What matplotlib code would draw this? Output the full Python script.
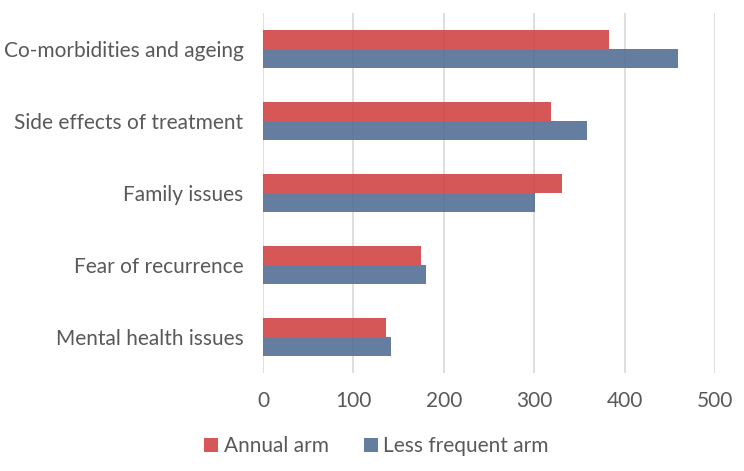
import matplotlib
matplotlib.use("Agg")
import matplotlib.pyplot as plt
import numpy as np

# ── data ─────────────────────────────────────────────────────────────────────
categories = ["Co-morbidities and ageing", "Side effects of treatment",
              "Family issues", "Fear of recurrence", "Mental health issues"]
annual_arm = [382, 318, 331, 175, 136]
less_frequent_arm = [459, 358, 301, 180, 142]
x_ticks = [0, 100, 200, 300, 400, 500]

series_labels = ["Annual arm", "Less frequent arm"]
RED = "#CF3A3A"
BLUE = "#4A6890"
TEXT = "#595959"
FS = 15

plt.rcParams["font.family"] = ["Lato", "DejaVu Sans"]

fig = plt.figure(figsize=(7.44, 4.71), dpi=100)
ax = fig.add_axes([0.3535, 0.208, 0.6079, 0.7644])

y = np.arange(len(categories))
h = 0.265
ax.barh(y - h / 2, annual_arm, height=h, color=RED, alpha=0.85,
        label=series_labels[0], zorder=3)
ax.barh(y + h / 2, less_frequent_arm, height=h, color=BLUE, alpha=0.85,
        label=series_labels[1], zorder=3)

ax.set_ylim(len(categories) - 0.5, -0.5)
ax.set_xlim(0, 500)
ax.set_xticks(x_ticks)
ax.set_yticks(y)
ax.set_yticklabels(categories, fontsize=FS, color=TEXT)
ax.tick_params(axis="x", labelsize=FS, labelcolor=TEXT, length=0, pad=13)
ax.tick_params(axis="y", length=0, pad=14)

ax.grid(axis="x", color="#D9D9D9", linewidth=1.2, zorder=0)
ax.set_axisbelow(True)
for s in ax.spines.values():
    s.set_visible(False)

fig.legend(loc="center", bbox_to_anchor=(0.506, 0.053), ncol=2, frameon=False,
           fontsize=FS, labelcolor=TEXT, handlelength=0.67, handleheight=0.67,
           handletextpad=0.25, columnspacing=1.7)

fig.savefig("out.png", dpi=100)
